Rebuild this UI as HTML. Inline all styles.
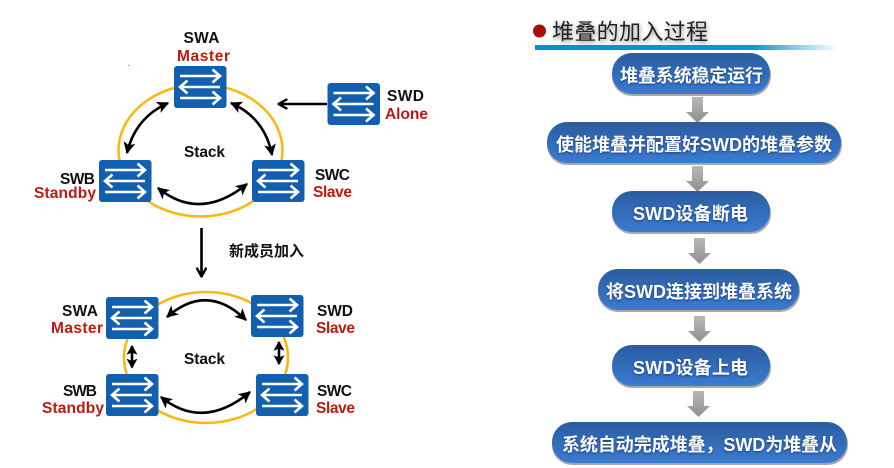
<!DOCTYPE html>
<html><head><meta charset="utf-8"><style>
html,body{margin:0;padding:0;background:#fff;width:894px;height:468px;overflow:hidden}
svg{display:block;filter:blur(.35px)}
text{font-family:"Liberation Sans","Noto Sans CJK SC",sans-serif;font-weight:bold;font-size:15.500px}
.k{fill:#111}.r{fill:#c0170f}
.p{fill:#fff;font-size:18px;filter:drop-shadow(0 1px 1px rgba(10,30,80,.6))}
.t{fill:#222;font-size:22px;font-weight:normal;filter:drop-shadow(1px 2px 2px rgba(0,0,0,.45))}
</style></head><body>
<svg width="894" height="468" viewBox="0 0 894 468" xmlns="http://www.w3.org/2000/svg">
<defs>
<marker id="a" viewBox="0 0 10 10" refX="9" refY="5" markerWidth="12" markerHeight="12" markerUnits="userSpaceOnUse" orient="auto-start-reverse"><path d="M0 0L10 5L0 10L2.500 5Z" fill="#000"/></marker>
<marker id="s" viewBox="0 0 10 10" refX="9" refY="5" markerWidth="11" markerHeight="11" markerUnits="userSpaceOnUse" orient="auto-start-reverse"><path d="M1 0L10 5L1 10L3 5Z" fill="#000"/></marker>
<marker id="d" viewBox="0 0 10 10" refX="9.500" refY="5" markerWidth="11" markerHeight="11" markerUnits="userSpaceOnUse" orient="auto"><path d="M1 0.500L9 5L1 9.500" fill="none" stroke="#000" stroke-width="2.200"/></marker>
<linearGradient id="g" x1="0" y1="0" x2="0" y2="1"><stop offset="0" stop-color="#2b5c9f"/><stop offset="1" stop-color="#3a7bd2"/></linearGradient>
<linearGradient id="b" x1="0" y1="0" x2="1" y2="0"><stop offset="0" stop-color="#008fd6"/><stop offset=".72" stop-color="#0a96da"/><stop offset="1" stop-color="#0a96da" stop-opacity="0"/></linearGradient>
<linearGradient id="ga" x1="0" y1="0" x2="0" y2="1"><stop offset="0" stop-color="#b8b8b8"/><stop offset="1" stop-color="#8f8f8f"/></linearGradient>
<g id="sw">
<rect width="52.500" height="42" rx="3" fill="#115fae"/>
<g fill="none" stroke="#fff" stroke-width="2.600">
<path d="M6 10H45M38.500 3.500L46 10L38.500 16.500"/>
<path d="M46 21H7M13.500 14.500L6 21L13.500 27.500"/>
<path d="M6 32H45M38.500 25.500L46 32L38.500 38.500"/>
</g>
</g>
<g id="ar"><path d="M6 0H17V15H23L11.500 26L0 15H6Z" fill="url(#ga)"/></g>
</defs>

<circle cx="129" cy="65.500" r=".6" fill="#b33"/>

<!-- Top ring -->
<ellipse cx="200.500" cy="150.500" rx="82" ry="66" fill="none" stroke="#fdb714" stroke-width="2.600"/>
<use href="#sw" x="174" y="66"/>
<use href="#sw" x="327.500" y="83"/>
<use href="#sw" x="99" y="160"/>
<use href="#sw" x="252" y="160"/>
<g fill="none" stroke="#000" stroke-width="2.600">
<path d="M168 103Q135 118 127 153" marker-start="url(#a)" marker-end="url(#a)"/>
<path d="M231 103Q265 118 272 155" marker-start="url(#a)" marker-end="url(#a)"/>
<path d="M158 188Q200 222 247 184" marker-start="url(#a)" marker-end="url(#a)"/>
<path d="M327 104H278" marker-end="url(#d)"/>
<path d="M201.500 228V277" marker-end="url(#d)"/>
</g>
<text class="k" x="183.500" y="43" textLength="36">SWA</text>
<text class="r" x="177" y="61" textLength="53">Master</text>
<text class="k" x="387" y="101" textLength="37">SWD</text>
<text class="r" x="385" y="119" textLength="43">Alone</text>
<text class="k" x="60" y="184" textLength="35">SWB</text>
<text class="r" x="34" y="198" textLength="62">Standby</text>
<text class="k" x="315" y="180" textLength="35">SWC</text>
<text class="r" x="313" y="197" textLength="39">Slave</text>
<text class="k" x="184" y="157" textLength="41">Stack</text>
<text class="k" x="229" y="256" textLength="75" style="font-size:15px">新成员加入</text>

<!-- Bottom ring -->
<ellipse cx="206" cy="357.500" rx="82" ry="65.500" fill="none" stroke="#fdb714" stroke-width="2.600"/>
<use href="#sw" x="106" y="297"/>
<use href="#sw" x="251" y="295"/>
<use href="#sw" x="106" y="374"/>
<use href="#sw" x="256" y="374"/>
<g fill="none" stroke="#000" stroke-width="2.600">
<path d="M167 317Q207 282 246 320" marker-start="url(#a)" marker-end="url(#a)"/>
<path d="M161 397Q203 431 250 392" marker-start="url(#a)" marker-end="url(#a)"/>
<path d="M132 346V367.500" marker-start="url(#s)" marker-end="url(#s)"/>
<path d="M279 342V364" marker-start="url(#s)" marker-end="url(#s)"/>
</g>
<text class="k" x="62" y="316" textLength="36">SWA</text>
<text class="r" x="51" y="333" textLength="52">Master</text>
<text class="k" x="317" y="316" textLength="36">SWD</text>
<text class="r" x="316" y="333" textLength="39">Slave</text>
<text class="k" x="63" y="396" textLength="34">SWB</text>
<text class="r" x="42" y="413" textLength="62">Standby</text>
<text class="k" x="317" y="396" textLength="35">SWC</text>
<text class="r" x="316" y="413" textLength="39">Slave</text>
<text class="k" x="184" y="364" textLength="41">Stack</text>

<!-- Right side -->
<circle cx="539.500" cy="31" r="6.500" fill="#a80f07"/>
<text class="t" x="552" y="39.500" textLength="156">堆叠的加入过程</text>
<rect x="535" y="45" width="303" height="5" fill="url(#b)"/>

<use href="#ar" x="686" y="97"/>
<use href="#ar" x="686" y="166"/>
<use href="#ar" x="688" y="238"/>
<use href="#ar" x="688" y="316"/>
<use href="#ar" x="687" y="391"/>

<g stroke="none">
<rect x="612" y="55" width="159" height="41" rx="20" fill="#a8a8a8"/><rect x="612" y="53" width="158" height="41" rx="20" fill="url(#g)"/>
<rect x="547" y="124" width="295" height="41" rx="20" fill="#a8a8a8"/><rect x="547" y="122" width="294" height="41" rx="20" fill="url(#g)"/>
<rect x="612" y="193" width="159" height="41" rx="20" fill="#a8a8a8"/><rect x="612" y="191" width="158" height="41" rx="20" fill="url(#g)"/>
<rect x="598" y="271" width="202" height="41" rx="20" fill="#a8a8a8"/><rect x="598" y="269" width="201" height="41" rx="20" fill="url(#g)"/>
<rect x="612" y="347" width="159" height="41" rx="20" fill="#a8a8a8"/><rect x="612" y="345" width="158" height="41" rx="20" fill="url(#g)"/>
<rect x="552" y="424" width="296" height="41" rx="20" fill="#a8a8a8"/><rect x="552" y="422" width="295" height="41" rx="20" fill="url(#g)"/>
</g>
<text class="p" x="620" y="82" textLength="143">堆叠系统稳定运行</text>
<text class="p" x="556" y="151" textLength="276">使能堆叠并配置好SWD的堆叠参数</text>
<text class="p" x="633" y="220" textLength="115">SWD设备断电</text>
<text class="p" x="606" y="298" textLength="186">将SWD连接到堆叠系统</text>
<text class="p" x="633" y="374" textLength="115">SWD设备上电</text>
<text class="p" x="562" y="451" textLength="275">系统自动完成堆叠，SWD为堆叠从</text>
</svg>
</body></html>
